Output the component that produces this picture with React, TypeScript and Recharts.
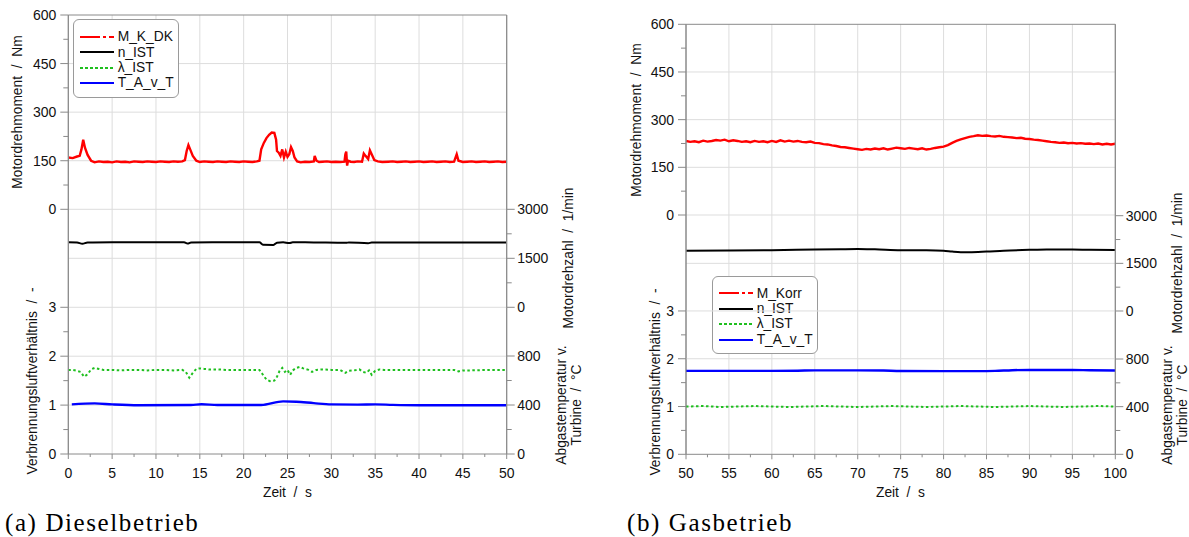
import React from 'react';
import { LineChart, Line, XAxis, YAxis, ReferenceLine, Legend } from 'recharts';

// colours / fonts
const GRID = '#dddddd';
const FRAME = '#8a8a8a';
const TEXT = '#111111';
const FONT = '"Liberation Sans", Arial, sans-serif';
const CHART_H = 480;
const X_AXIS_H = 20;

// axis ticks
const dieselTimeTicks = [0, 2.5, 5, 7.5, 10, 12.5, 15, 17.5, 20, 22.5, 25, 27.5, 30, 32.5, 35, 37.5, 40, 42.5, 45, 47.5, 50];
const gasTimeTicks = [50, 52.5, 55, 57.5, 60, 62.5, 65, 67.5, 70, 72.5, 75, 77.5, 80, 82.5, 85, 87.5, 90, 92.5, 95, 97.5, 100];
const torqueTicks = [0, 75, 150, 225, 300, 375, 450, 525, 600];
const torqueMajor = [0, 150, 300, 450, 600];
const rpmTicks = [0, 750, 1500, 2250, 3000];
const rpmMajor = [0, 1500, 3000];
const lambdaTicks = [0, 0.5, 1, 1.5, 2, 2.5, 3];
const lambdaMajor = [0, 1, 2, 3];
const tempTicks = [0, 200, 400, 600, 800];
const tempMajor = [0, 400, 800];

// legend entries
const dieselNames = ['M_K_DK', 'n_IST', 'λ_IST', 'T_A_v_T'];
const gasNames = ['M_Korr', 'n_IST', 'λ_IST', 'T_A_v_T'];
const seriesColors = ['#ff0000', '#000000', '#1fbf1f', '#0000ff'];
const legendDashes = ['20 3 3 3 8', undefined, '3 2', undefined];

// (a) Dieselbetrieb  [time s, value]
const dieselTorque: [number, number][] = [
  [0, 160], [0.5, 158], [1, 163], [1.3, 165], [1.5, 185], [1.7, 215], [1.9, 190], [2.2, 168], [2.6, 150], [3, 145],
  [3.5, 148], [4, 146], [4.5, 147], [5, 145], [5.5, 148], [6, 146], [6.5, 147], [7, 145], [7.5, 148], [8, 147],
  [8.5, 146], [9, 148], [9.5, 147], [10, 146], [10.5, 148], [11, 147], [11.5, 146], [12, 148], [12.5, 147], [13, 148],
  [13.3, 152], [13.5, 180], [13.7, 198], [13.9, 185], [14.2, 165], [14.6, 150], [15, 146], [15.5, 148], [16, 147], [16.5, 146],
  [17, 148], [17.5, 147], [18, 146], [18.5, 148], [19, 147], [19.5, 146], [20, 148], [20.5, 147], [21, 146], [21.5, 148],
  [21.8, 150], [22, 185], [22.3, 205], [22.6, 220], [22.9, 230], [23.2, 237], [23.5, 236], [23.7, 215], [23.8, 180], [24, 175],
  [24.2, 165], [24.4, 185], [24.6, 160], [24.8, 178], [25, 162], [25.2, 170], [25.4, 192], [25.6, 180], [25.8, 160], [26.1, 148],
  [26.5, 145], [27, 147], [27.5, 146], [28, 148], [28.1, 165], [28.3, 150], [28.6, 146], [29, 147], [29.5, 148], [30, 146],
  [30.5, 147], [31, 146], [31.5, 147], [31.6, 170], [31.7, 178], [31.8, 135], [31.9, 150], [32.2, 147], [32.6, 146], [33, 148],
  [33.5, 147], [33.7, 172], [33.9, 165], [34.2, 155], [34.4, 182], [34.6, 170], [34.9, 152], [35.3, 148], [35.8, 146], [36.5, 147],
  [37, 148], [37.5, 146], [38, 147], [38.5, 148], [39, 146], [39.5, 147], [40, 148], [40.5, 146], [41, 147], [41.5, 148],
  [42, 146], [42.5, 147], [43, 148], [43.5, 146], [44, 147], [44.3, 170], [44.5, 150], [45, 146], [45.5, 147], [46, 148],
  [46.5, 146], [47, 147], [47.5, 148], [48, 146], [48.5, 147], [49, 148], [49.5, 146], [50, 147],
];
const dieselRpm: [number, number][] = [
  [0, 1990], [1, 1985], [1.6, 1945], [2.2, 1985], [5, 1990], [10, 1988], [13.2, 1988], [13.6, 1950], [14, 1985], [18, 1990],
  [21.8, 1988], [22.2, 1915], [23.4, 1910], [23.8, 1975], [24.5, 1990], [25.2, 1965], [25.6, 1990], [28, 1985], [31.7, 1975], [32, 1985],
  [34.2, 1960], [34.6, 1985], [40, 1985], [45, 1985], [50, 1985],
];
const dieselLambda: [number, number][] = [
  [0, 1.72], [0.5, 1.72], [1, 1.7], [1.4, 1.68], [1.8, 1.58], [2.2, 1.63], [2.6, 1.73], [3, 1.76], [3.5, 1.74], [4, 1.72],
  [5, 1.72], [6, 1.71], [7, 1.72], [8, 1.72], [9, 1.71], [10, 1.72], [11, 1.72], [12, 1.71], [13, 1.72], [13.4, 1.68],
  [13.8, 1.56], [14.2, 1.66], [14.6, 1.74], [15, 1.75], [15.5, 1.74], [16, 1.73], [17, 1.73], [18, 1.72], [19, 1.72], [20, 1.72],
  [21, 1.72], [21.8, 1.72], [22.2, 1.62], [22.6, 1.52], [23, 1.49], [23.5, 1.5], [23.8, 1.58], [24.1, 1.7], [24.4, 1.76], [24.7, 1.68],
  [25, 1.72], [25.3, 1.62], [25.6, 1.71], [26, 1.76], [26.4, 1.78], [26.8, 1.75], [27.4, 1.72], [27.8, 1.68], [28.3, 1.72], [29, 1.73],
  [30, 1.72], [31, 1.72], [31.6, 1.66], [32, 1.7], [32.6, 1.71], [33.2, 1.73], [33.6, 1.68], [34, 1.66], [34.3, 1.71], [34.6, 1.62],
  [35, 1.7], [35.5, 1.73], [36, 1.72], [38, 1.72], [40, 1.72], [42, 1.72], [44, 1.72], [44.5, 1.69], [45, 1.71], [46, 1.71],
  [48, 1.72], [50, 1.72],
];
const dieselTemp: [number, number][] = [
  [0.4, 405], [3, 413], [5, 405], [8, 398], [14, 400], [15.2, 406], [17, 400], [22, 400], [24.5, 430], [26, 427],
  [28, 415], [30, 405], [33, 403], [35, 405], [37, 401], [40, 398], [45, 398], [50, 398],
];

// (b) Gasbetrieb  [time s, value]
const gasTorque: [number, number][] = [
  [50, 233], [50.5, 230], [51, 232], [51.5, 229], [52, 234], [52.5, 231], [53, 233], [53.5, 236], [54, 234], [54.5, 237],
  [55, 232], [55.5, 235], [56, 233], [56.5, 230], [57, 232], [57.5, 229], [58, 233], [58.5, 230], [59, 232], [59.5, 229],
  [60, 233], [60.5, 230], [61, 235], [61.5, 231], [62, 234], [62.5, 231], [63, 233], [63.5, 230], [64, 229], [64.5, 231],
  [65, 227], [65.5, 226], [66, 223], [66.5, 222], [67, 219], [67.5, 217], [68, 214], [68.5, 213], [69, 211], [69.5, 209],
  [70, 207], [70.5, 205], [71, 208], [71.5, 206], [72, 209], [72.5, 207], [73, 210], [73.5, 206], [74, 209], [74.5, 212],
  [75, 210], [75.5, 208], [76, 211], [76.5, 209], [77, 207], [77.5, 210], [78, 206], [78.5, 208], [79, 211], [79.5, 213],
  [80, 215], [80.5, 220], [81, 227], [81.5, 233], [82, 238], [82.5, 242], [83, 246], [83.5, 248], [84, 251], [84.5, 249],
  [85, 250], [85.5, 248], [86, 247], [86.5, 249], [87, 246], [87.5, 245], [88, 244], [88.5, 242], [89, 243], [89.5, 240],
  [90, 239], [90.5, 237], [91, 236], [91.5, 234], [92, 232], [92.5, 230], [93, 229], [93.5, 227], [94, 228], [94.5, 226],
  [95, 227], [95.5, 225], [96, 226], [96.5, 224], [97, 225], [97.5, 223], [98, 225], [98.5, 222], [99, 224], [99.5, 222],
  [100, 224],
];
const gasRpm: [number, number][] = [
  [50, 1900], [55, 1905], [60, 1915], [65, 1935], [68, 1945], [70, 1950], [72, 1940], [75, 1915], [78, 1912], [80, 1900],
  [81, 1870], [82, 1850], [83, 1848], [85, 1870], [87, 1900], [90, 1925], [92, 1935], [95, 1935], [97, 1925], [100, 1920],
];
const gasLambda: [number, number][] = [
  [50, 1.0], [52, 1.01], [54, 0.99], [56, 1.0], [58, 1.01], [60, 1.0], [62, 0.99], [64, 1.0], [66, 1.01], [68, 1.0],
  [70, 0.99], [72, 1.0], [74, 1.01], [76, 1.0], [78, 0.99], [80, 1.0], [82, 1.01], [84, 1.0], [86, 0.99], [88, 1.0],
  [90, 1.01], [92, 1.0], [94, 0.99], [96, 1.0], [98, 1.01], [100, 1.0],
];
const gasTemp: [number, number][] = [
  [50, 700], [55, 700], [60, 700], [63, 702], [65, 705], [70, 705], [73, 703], [75, 699], [80, 698], [84, 698],
  [86, 700], [88, 706], [90, 708], [95, 708], [97, 706], [100, 704],
];

const toPoints = (arr: [number, number][]) => arr.map(([t, v]) => ({ t, v }));

const YTick = (props: any) => {
  const { x, y, payload, side, majors } = props;
  const major = majors.includes(payload.value);
  const d = side === 'left' ? -1 : 1;
  const len = major ? 8 : 5;
  return (
    <g>
      <line x1={x} x2={x + d * len} y1={y} y2={y} stroke={FRAME} />
      {major && (
        <text
          x={x + d * (side === 'left' ? 12 : 10.5)}
          y={y}
          dy="0.36em"
          textAnchor={side === 'left' ? 'end' : 'start'}
          fontFamily={FONT}
          fontSize={14}
          fill={TEXT}
        >
          {payload.value}
        </text>
      )}
    </g>
  );
};

const XTick = (props: any) => {
  const { x, y, payload } = props;
  const major = payload.value % 5 === 0;
  return (
    <g>
      <line x1={x} x2={x} y1={y} y2={y + (major ? 5 : 3)} stroke={FRAME} />
      {major && (
        <text x={x} y={y + 23.5} textAnchor="middle" fontFamily={FONT} fontSize={14} fill={TEXT}>
          {payload.value}
        </text>
      )}
    </g>
  );
};

const LegendBox = ({ names }: { names: string[] }) => (
  <div
    style={{
      border: '1px solid #9a9a9a',
      borderRadius: 6,
      background: '#fff',
      padding: '9px 6px 6px 6px',
      width: 106,
      boxSizing: 'border-box',
      fontFamily: FONT,
      fontSize: 13.8,
      color: TEXT,
      lineHeight: '15.4px',
    }}
  >
    {names.map((n, i) => (
      <div key={n} style={{ display: 'flex', alignItems: 'center', height: 15.4 }}>
        <svg width={34} height={6} style={{ flex: 'none' }}>
          <line x1={0} x2={34} y1={3} y2={3} stroke={seriesColors[i]} strokeWidth={2} strokeDasharray={legendDashes[i]} />
        </svg>
        <span style={{ marginLeft: 4 }}>{n}</span>
      </div>
    ))}
  </div>
);

interface PanelProps {
  left: number;
  width: number;
  margin: { top: number; right: number; bottom: number; left: number };
  xDomain: [number, number];
  xTicks: number[];
  torqueDomain: [number, number];
  rpmDomain: [number, number];
  lambdaDomain: [number, number];
  tempDomain: [number, number];
  torque: [number, number][];
  rpm: [number, number][];
  lambda: [number, number][];
  temp: [number, number][];
  names: string[];
  legendPos: { left: number; top: number };
}

const Panel = (p: PanelProps) => {
  const marginB = { ...p.margin, bottom: p.margin.bottom - X_AXIS_H };
  const gridX = p.xTicks.filter((v) => v % 5 === 0 && v !== p.xDomain[0] && v !== p.xDomain[1]);
  return (
    <div style={{ position: 'absolute', left: p.left, top: 0, width: p.width, height: CHART_H }}>
      <div style={{ position: 'absolute', left: 0, top: 0 }}>
        <LineChart width={p.width} height={CHART_H} margin={p.margin}>
          <XAxis type="number" dataKey="t" domain={p.xDomain} ticks={p.xTicks} hide allowDataOverflow />
          <YAxis
            yAxisId="torque"
            orientation="left"
            type="number"
            width={50}
            domain={p.torqueDomain}
            ticks={torqueTicks}
            interval={0}
            allowDataOverflow
            tickSize={0}
            tickMargin={0}
            tickLine={false}
            axisLine={{ stroke: FRAME }}
            tick={(t: any) => <YTick {...t} side="left" majors={torqueMajor} />}
          />
          <YAxis
            yAxisId="rpm"
            orientation="right"
            type="number"
            width={50}
            domain={p.rpmDomain}
            ticks={rpmTicks}
            interval={0}
            allowDataOverflow
            tickSize={0}
            tickMargin={0}
            tickLine={false}
            axisLine={{ stroke: FRAME }}
            tick={(t: any) => <YTick {...t} side="right" majors={rpmMajor} />}
          />
          {gridX.map((v) => (
            <ReferenceLine key={`gx${v}`} yAxisId="torque" x={v} stroke={GRID} />
          ))}
          {torqueMajor.slice(0, 4).map((v) => (
            <ReferenceLine key={`gt${v}`} yAxisId="torque" y={v} stroke={GRID} />
          ))}
          <ReferenceLine yAxisId="rpm" y={1500} stroke={GRID} />
          <ReferenceLine yAxisId="torque" y={600} stroke={FRAME} />
          <Legend
            layout="vertical"
            align="center"
            verticalAlign="middle"
            wrapperStyle={{ left: p.legendPos.left, top: p.legendPos.top, width: 'auto', height: 'auto' }}
            content={() => <LegendBox names={p.names} />}
          />
          <Line
            yAxisId="rpm"
            data={toPoints(p.rpm)}
            dataKey="v"
            type="monotone"
            stroke={seriesColors[1]}
            strokeWidth={2}
            dot={false}
            isAnimationActive={false}
          />
          <Line
            yAxisId="torque"
            data={toPoints(p.torque)}
            dataKey="v"
            type="linear"
            stroke={seriesColors[0]}
            strokeWidth={2.4}
            dot={false}
            isAnimationActive={false}
          />
        </LineChart>
      </div>
      <div style={{ position: 'absolute', left: 0, top: 0 }}>
        <LineChart width={p.width} height={CHART_H} margin={marginB}>
          <XAxis
            type="number"
            dataKey="t"
            domain={p.xDomain}
            ticks={p.xTicks}
            interval={0}
            height={X_AXIS_H}
            allowDataOverflow
            tickSize={0}
            tickMargin={0}
            tickLine={false}
            axisLine={{ stroke: FRAME }}
            tick={(t: any) => <XTick {...t} />}
          />
          <YAxis
            yAxisId="lambda"
            orientation="left"
            type="number"
            width={50}
            domain={p.lambdaDomain}
            ticks={lambdaTicks}
            interval={0}
            allowDataOverflow
            tickSize={0}
            tickMargin={0}
            tickLine={false}
            axisLine={{ stroke: FRAME }}
            tick={(t: any) => <YTick {...t} side="left" majors={lambdaMajor} />}
          />
          <YAxis
            yAxisId="temp"
            orientation="right"
            type="number"
            width={50}
            domain={p.tempDomain}
            ticks={tempTicks}
            interval={0}
            allowDataOverflow
            tickSize={0}
            tickMargin={0}
            tickLine={false}
            axisLine={{ stroke: FRAME }}
            tick={(t: any) => <YTick {...t} side="right" majors={tempMajor} />}
          />
          {lambdaMajor.slice(1).map((v) => (
            <ReferenceLine key={`gl${v}`} yAxisId="lambda" y={v} stroke={GRID} />
          ))}
          <Line
            yAxisId="temp"
            data={toPoints(p.temp)}
            dataKey="v"
            type="monotone"
            stroke={seriesColors[3]}
            strokeWidth={2.4}
            dot={false}
            isAnimationActive={false}
          />
          <Line
            yAxisId="lambda"
            data={toPoints(p.lambda)}
            dataKey="v"
            type="linear"
            stroke={seriesColors[2]}
            strokeWidth={2}
            strokeDasharray="2.5 2.5"
            dot={false}
            isAnimationActive={false}
          />
        </LineChart>
      </div>
    </div>
  );
};

const VText = ({ x, y, children }: { x: number; y: number; children: React.ReactNode }) => (
  <text
    x={x}
    y={y}
    transform={`rotate(-90, ${x}, ${y})`}
    textAnchor="middle"
    dy="0.35em"
    fontFamily={FONT}
    fontSize={13.8}
    fill={TEXT}
    style={{ whiteSpace: 'pre' }}
  >
    {children}
  </text>
);

const App = () => {
  const sep = '\u00a0\u00a0/\u00a0\u00a0';
  return (
    <div style={{ position: 'absolute', left: 0, top: 0, width: 1189, height: 537, background: '#fff' }}>
      <Panel
        left={0}
        width={600}
        margin={{ top: 15, right: 43.3, bottom: 26, left: 18.3 }}
        xDomain={[0, 50]}
        xTicks={dieselTimeTicks}
        torqueDomain={[-755.6, 600]}
        rpmDomain={[-4491, 8948]}
        lambdaDomain={[0, 8.977]}
        tempDomain={[0, 3584]}
        torque={dieselTorque}
        rpm={dieselRpm}
        lambda={dieselLambda}
        temp={dieselTemp}
        names={dieselNames}
        legendPos={{ left: 72.7, top: 19.3 }}
      />
      <Panel
        left={600}
        width={589}
        margin={{ top: 24.3, right: 23.7, bottom: 25.7, left: 36 }}
        xDomain={[50, 100]}
        xTicks={gasTimeTicks}
        torqueDomain={[-752.9, 600]}
        rpmDomain={[-4511, 9025]}
        lambdaDomain={[0, 9.0]}
        tempDomain={[0, 3610]}
        torque={gasTorque}
        rpm={gasRpm}
        lambda={gasLambda}
        temp={gasTemp}
        names={gasNames}
        legendPos={{ left: 111.7, top: 275.7 }}
      />
      <svg width={1189} height={537} style={{ position: 'absolute', left: 0, top: 0, pointerEvents: 'none' }}>
        <VText x={17.5} y={112}>{`Motordrehmoment${sep}Nm`}</VText>
        <VText x={32} y={381}>{`Verbrennungsluftverhältnis${sep}-`}</VText>
        <VText x={568} y={258}>{`Motordrehzahl${sep}1/min`}</VText>
        <VText x={561} y={405}>Abgastemperatur v.</VText>
        <VText x={576} y={405}>{`Turbine${sep}°C`}</VText>
        <VText x={636} y={120}>{`Motordrehmoment${sep}Nm`}</VText>
        <VText x={655} y={382}>{`Verbrennungsluftverhältnis${sep}-`}</VText>
        <VText x={1177} y={263}>{`Motordrehzahl${sep}1/min`}</VText>
        <VText x={1167} y={405}>Abgastemperatur v.</VText>
        <VText x={1182} y={405}>{`Turbine${sep}°C`}</VText>
        <text x={287.5} y={497} textAnchor="middle" fontFamily={FONT} fontSize={13.8} fill={TEXT}>{`Zeit${sep}s`}</text>
        <text x={900.5} y={497} textAnchor="middle" fontFamily={FONT} fontSize={13.8} fill={TEXT}>{`Zeit${sep}s`}</text>
        <text x={5} y={531} fontFamily='"Liberation Serif", serif' fontSize={25} fill="#000" letterSpacing={1.6}>(a) Dieselbetrieb</text>
        <text x={627} y={531} fontFamily='"Liberation Serif", serif' fontSize={25} fill="#000" letterSpacing={1.6}>(b) Gasbetrieb</text>
      </svg>
    </div>
  );
};

export default App;
